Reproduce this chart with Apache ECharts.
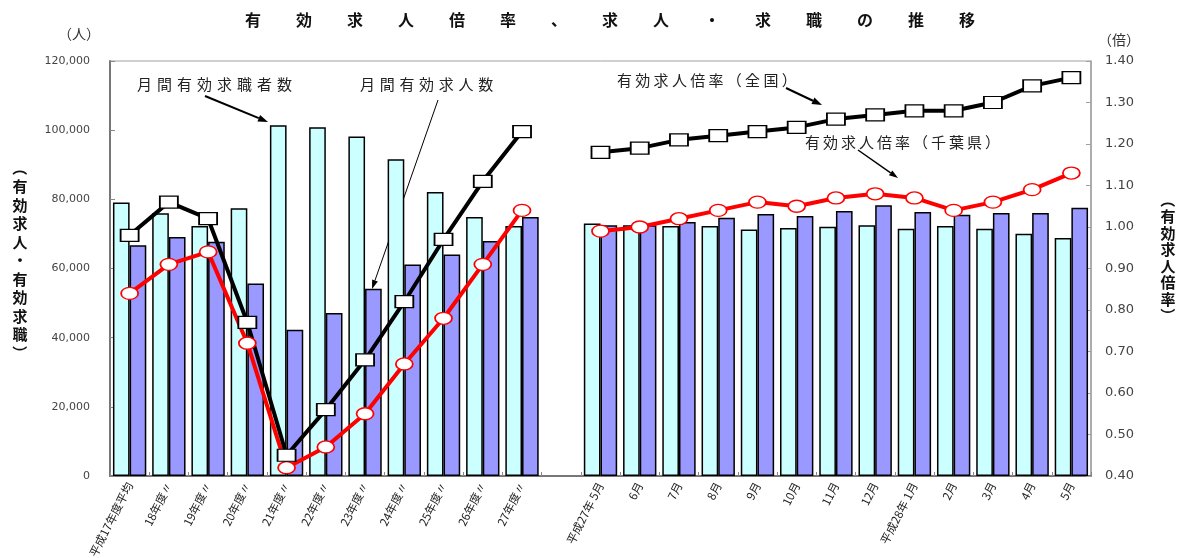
<!DOCTYPE html>
<html><head><meta charset="utf-8">
<script src="https://cdn.jsdelivr.net/npm/echarts@6/dist/echarts.min.js"></script>
<style>html,body{margin:0;padding:0;background:#fff}#c{width:1185px;height:558px}</style>
</head><body><div id="c"></div>
<script>
const categories = ['平成17年度平均','18年度〃','19年度〃','20年度〃','21年度〃','22年度〃','23年度〃','24年度〃','25年度〃','26年度〃','27年度〃','',
  '平成27年 5月','6月','7月','8月','9月','10月','11月','12月','平成28年 1月','2月','3月','4月','5月'];
const jobSeekers = [79050,75940,72270,77390,101450,100870,98170,91600,82130,74880,72270,null,
  73040,72470,72270,72270,71300,71690,72080,72470,71500,72270,71500,70050,68790];
const jobOffers = [66750,69080,67730,55650,42320,47160,54110,61160,64060,67920,74880,null,
  72470,72470,73430,74690,75750,75170,76610,78260,76320,75560,76030,76030,77590];
const ratioNational = [0.98,1.06,1.02,0.77,0.45,0.56,0.68,0.82,0.97,1.11,1.23,null,
  1.18,1.19,1.21,1.22,1.23,1.24,1.26,1.27,1.28,1.28,1.30,1.34,1.36];
const ratioChiba = [0.84,0.91,0.94,0.72,0.42,0.47,0.55,0.67,0.78,0.91,1.04,null,
  0.99,1.00,1.02,1.04,1.06,1.05,1.07,1.08,1.07,1.04,1.06,1.09,1.13];
const leftTicks = [0,20000,40000,60000,80000,100000,120000];
const rightTicks = [0.4,0.5,0.6,0.7,0.8,0.9,1.0,1.1,1.2,1.3,1.4];

const titleText = '有効求人倍率、求人・求職の推移';
const CJK = '"Noto Sans CJK JP", "Noto Sans", sans-serif';
const NUM = '"DejaVu Sans", "Liberation Sans", sans-serif';

function spaced(str, x, y, pitch, font, weight, color) {
  return Array.from(str).map((ch, i) => ({
    type: 'text', x: x + i * pitch, y: y, silent: true,
    style: { text: ch, font: (weight || 'normal') + ' ' + font + 'px ' + CJK, fill: color || '#222', textVerticalAlign: 'middle' }
  }));
}
function vertical(str, x, y, pitch, font) {
  const chars = Array.from(str);
  return chars.map((ch, i) => {
    const isParen = (ch === '（' || ch === '）');
    return {
      type: 'text', x: x, y: y + i * pitch, silent: true,
      rotation: isParen ? -Math.PI / 2 : 0,
      style: { text: ch, font: 'bold ' + font + 'px ' + CJK, fill: '#111', textAlign: 'center', textVerticalAlign: 'middle' }
    };
  });
}
function arrow(x1, y1, x2, y2, w, hl, hw) {
  const a = Math.atan2(y2 - y1, x2 - x1);
  const bx = x2 - hl * Math.cos(a), by = y2 - hl * Math.sin(a);
  const px = -Math.sin(a) * hw / 2, py = Math.cos(a) * hw / 2;
  return [
    { type: 'line', silent: true, shape: { x1: x1, y1: y1, x2: bx, y2: by }, style: { stroke: '#000', lineWidth: w } },
    { type: 'polygon', silent: true, shape: { points: [[x2, y2], [bx + px, by + py], [bx - px, by - py]] }, style: { fill: '#000' } }
  ];
}

const graphics = [].concat(
  Array.from(titleText).map((ch, i) => ({
    type: 'text', x: 245 + i * 51, y: 20, silent: true,
    style: { text: ch, font: 'bold 16px ' + CJK, fill: '#111', textVerticalAlign: 'middle' }
  })),
  [{ type: 'text', x: 58, y: 34, silent: true, style: { text: '（人）', font: '14px ' + CJK, fill: '#333', textVerticalAlign: 'middle' } },
   { type: 'text', x: 1098, y: 40, silent: true, style: { text: '（倍）', font: '14px ' + CJK, fill: '#333', textVerticalAlign: 'middle' } }],
  vertical('（有効求人・有効求職）', 20, 168, 18.5, 15),
  vertical('（有効求人倍率）', 1168, 200, 16.5, 15),
  spaced('月間有効求職者数', 137, 84, 20, 15),
  spaced('月間有効求人数', 360, 84, 19.7, 15),
  spaced('有効求人倍率（全国）', 617, 80, 18.3, 15),
  spaced('有効求人倍率（千葉県）', 805, 142, 18, 15),
  arrow(205, 96, 268, 122, 2, 10, 7),
  arrow(438, 100, 372, 289, 1, 9, 6),
  arrow(786, 88, 822, 105, 2, 10, 7),
  arrow(858, 150, 898, 178, 1.5, 9, 6)
);

const chart = echarts.init(document.getElementById('c'), null, { renderer: 'canvas' });
chart.setOption({
  animation: false,
  backgroundColor: '#fff',
  grid: { left: 110, right: 94, top: 61, bottom: 82, containLabel: false, outerBoundsMode: 'none',
    show: true, borderColor: '#a0a0a0', borderWidth: 1 },
  xAxis: {
    type: 'category', data: categories, boundaryGap: true,
    axisLine: { lineStyle: { color: '#777', width: 2 } },
    axisTick: { show: true, inside: true, length: 4, lineStyle: { color: '#888' } },
    axisLabel: { interval: 0, rotate: 63, margin: 7, fontSize: 11.5, color: '#222', fontFamily: CJK }
  },
  yAxis: [
    { type: 'value', min: leftTicks[0], max: leftTicks[leftTicks.length - 1], interval: 20000,
      axisLine: { show: true, lineStyle: { color: '#777', width: 2 } },
      axisTick: { show: true, inside: true, length: 5, lineStyle: { color: '#888' } },
      splitLine: { show: false },
      axisLabel: { margin: 20, fontSize: 11, color: '#444', fontFamily: NUM,
        formatter: v => v === 0 ? '0' : v.toLocaleString('en-US') } },
    { type: 'value', min: rightTicks[0], max: rightTicks[rightTicks.length - 1], interval: 0.1,
      axisLine: { show: true, lineStyle: { color: '#a0a0a0', width: 1.5 } },
      axisTick: { show: true, inside: true, length: 5, lineStyle: { color: '#a0a0a0' } },
      splitLine: { show: false },
      axisLabel: { margin: 14, fontSize: 13, color: '#444', fontFamily: NUM, formatter: v => v.toFixed(2) } }
  ],
  series: [
    { name: '月間有効求職者数', type: 'bar', data: jobSeekers, barGap: '0%', barCategoryGap: '15%',
      itemStyle: { color: '#ccffff', borderColor: '#000', borderWidth: 1.5 } },
    { name: '月間有効求人数', type: 'bar', data: jobOffers, barGap: '0%', barCategoryGap: '15%',
      itemStyle: { color: '#9999ff', borderColor: '#000', borderWidth: 1.5 } },
    { name: '有効求人倍率（千葉県）', type: 'line', yAxisIndex: 1, data: ratioChiba, connectNulls: false,
      symbol: 'circle', symbolSize: [17, 12], showAllSymbol: true,
      lineStyle: { color: '#ff0000', width: 4 },
      itemStyle: { color: '#ffffff', borderColor: '#ff0000', borderWidth: 1.5 } },
    { name: '有効求人倍率（全国）', type: 'line', yAxisIndex: 1, data: ratioNational, connectNulls: false,
      symbol: 'rect', symbolSize: [18, 12], showAllSymbol: true,
      lineStyle: { color: '#000000', width: 4 },
      itemStyle: { color: '#ffffff', borderColor: '#000', borderWidth: 1.5 } }
  ],
  graphic: graphics
});
</script>
</body></html>
